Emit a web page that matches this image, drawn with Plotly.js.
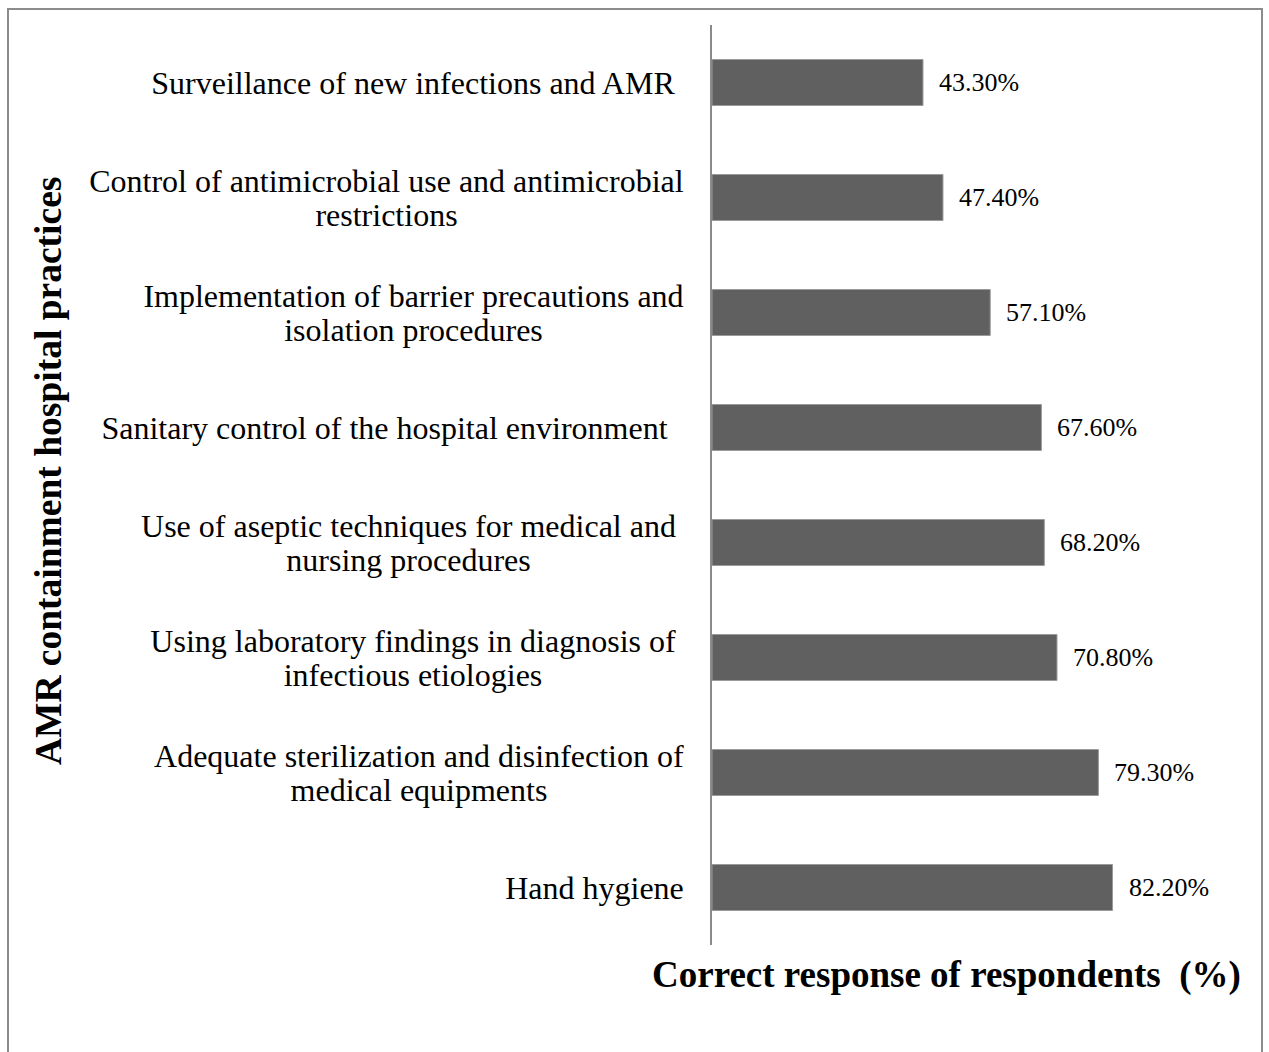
<!DOCTYPE html>
<html>
<head>
<meta charset="utf-8">
<script src="https://cdn.plot.ly/plotly-3.0.1.min.js"></script>
<style>
  html, body { margin: 0; padding: 0; background: #fff; }
  #wrap { position: relative; width: 1269px; height: 1052px; overflow: hidden; }
  #chart { width: 1269px; height: 1052px; }
  #frame { position: absolute; left: 7px; top: 8px; width: 1256px; height: 1100px;
           border: 2px solid #8c8c8c; pointer-events: none; box-sizing: border-box; }
</style>
</head>
<body>
<div id="wrap">
  <div id="chart"></div>
  <div id="frame"></div>
</div>
<script>
// Categories, top to bottom (line breaks as in the original)
const categories = [
  "Surveillance of new infections and AMR\u00A0",
  "Control of antimicrobial use and antimicrobial<br>restrictions",
  "Implementation of barrier precautions and<br>isolation procedures",
  "Sanitary control of the hospital environment\u00A0\u00A0",
  "Use of aseptic techniques for medical and\u00A0<br>nursing procedures\u00A0",
  "Using laboratory findings in diagnosis of\u00A0<br>infectious etiologies\u00A0",
  "Adequate sterilization and disinfection of<br>medical equipments",
  "Hand hygiene"
];
// Correct response of respondents (%)
const values = [43.3, 47.4, 57.1, 67.6, 68.2, 70.8, 79.3, 82.2];

const xTitle = "Correct response of respondents &nbsp;(%)";
const yTitle = "AMR containment hospital practices";

const serif = "Liberation Serif, Times New Roman, serif";
const catSize = 32;

const ctx = document.createElement("canvas").getContext("2d");
ctx.font = catSize + "px 'Liberation Serif'";
function textWidth(s) { return ctx.measureText(s).width; }

const trace = {
  type: "bar",
  orientation: "h",
  y: categories,
  x: values,
  width: 0.4,
  marker: { color: "#606060", line: { color: "#9a9a9a", width: 1 } },
  hoverinfo: "x+y"
};

const annotations = [];
categories.forEach((c, i) => {
  const lines = c.split("<br>");
  const boxW = Math.ceil(Math.max(...lines.map(textWidth))) + 2;
  const n = lines.length;
  lines.forEach((ln, k) => {
    annotations.push({
      xref: "x", yref: "y", x: 0, y: c,
      text: ln, showarrow: false,
      xanchor: "right", yanchor: "middle", align: "center",
      width: boxW,
      xshift: -25,
      yshift: ((n - 1) / 2 - k) * 34,
      font: { family: serif, size: catSize, color: "#000" }
    });
  });
  annotations.push({
    xref: "x", yref: "y", x: values[i], y: c,
    text: values[i].toFixed(2) + "%", showarrow: false,
    xanchor: "left", yanchor: "middle",
    xshift: 14,
    font: { family: serif, size: 26, color: "#000" }
  });
});
annotations.push({
  xref: "paper", yref: "paper", x: -1.239, y: 0.515,
  text: "<b>" + yTitle + "</b>", showarrow: false, textangle: -90,
  xanchor: "center", yanchor: "middle",
  font: { family: serif, size: 37.5, color: "#000" }
});
annotations.push({
  xref: "paper", yref: "paper", x: 0.99, y: -0.033,
  text: "<b>" + xTitle + "</b>", showarrow: false,
  xanchor: "right", yanchor: "middle",
  font: { family: serif, size: 37, color: "#000" }
});

const layout = {
  width: 1269, height: 1052,
  margin: { l: 712, r: 21, t: 25, b: 107, pad: 0 },
  paper_bgcolor: "#fff", plot_bgcolor: "#fff",
  showlegend: false,
  xaxis: { range: [0, 110], showgrid: false, zeroline: false, showline: false,
           showticklabels: false, ticks: "" },
  yaxis: { type: "category", autorange: "reversed", showgrid: false, zeroline: false,
           showline: true, linecolor: "#8a8a8a", linewidth: 2,
           showticklabels: false, ticks: "" },
  annotations: annotations
};

Plotly.newPlot("chart", [trace], layout, { displayModeBar: false, staticPlot: true });
</script>
</body>
</html>
